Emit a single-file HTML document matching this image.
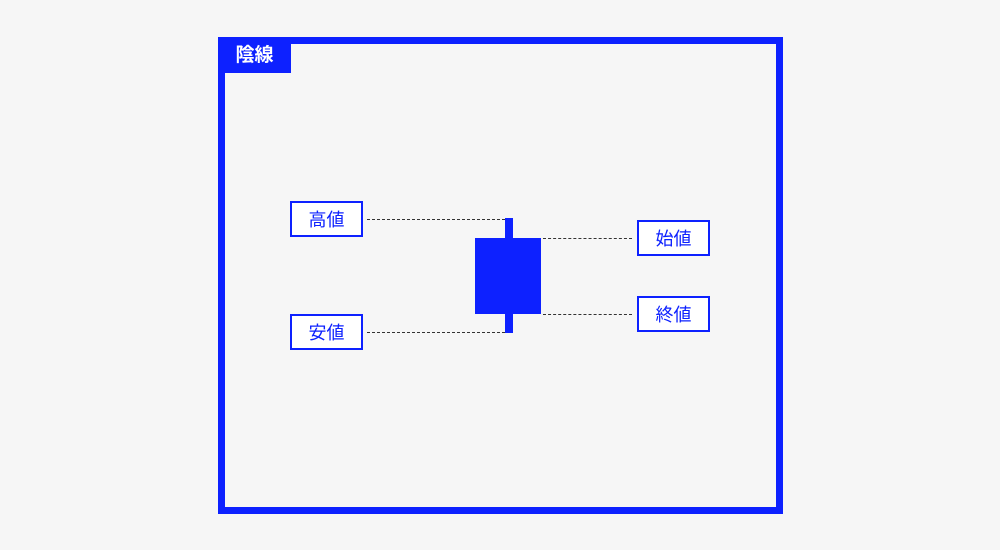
<!DOCTYPE html>
<html><head><meta charset="utf-8"><style>
body{margin:0;background:#f6f6f6;width:1000px;height:550px;position:relative;overflow:hidden;font-family:"Liberation Sans","Noto Sans CJK JP",sans-serif}
.a{position:absolute;box-sizing:border-box}
.frame{left:218px;top:37px;width:565px;height:477px;border:7px solid #0d21ff}
.tab{left:218px;top:37px;width:73px;height:36px;background:#0d21ff;color:#fff;font-size:19px;font-weight:bold;line-height:38px;text-align:center}
.box{width:73px;height:36px;border:2px solid #0d21ff;background:#fff;color:#0d21ff;font-size:18px;line-height:34px;text-align:center}
.d{height:0;border-top:1px dashed #333}
.b{background:#0d21ff}
</style></head><body>
<div class="a frame"></div>
<div class="a tab">陰線</div>
<div class="a box" style="left:290px;top:201px">高値</div>
<div class="a box" style="left:290px;top:314px">安値</div>
<div class="a box" style="left:637px;top:220px">始値</div>
<div class="a box" style="left:637px;top:296px">終値</div>
<div class="a d" style="left:367px;top:219px;width:138px"></div>
<div class="a d" style="left:367px;top:332px;width:138px"></div>
<div class="a d" style="left:543px;top:238px;width:89px"></div>
<div class="a d" style="left:543px;top:314px;width:89px"></div>
<div class="a b" style="left:505px;top:218px;width:8px;height:115px"></div>
<div class="a b" style="left:475px;top:238px;width:66px;height:76px"></div>
</body></html>
